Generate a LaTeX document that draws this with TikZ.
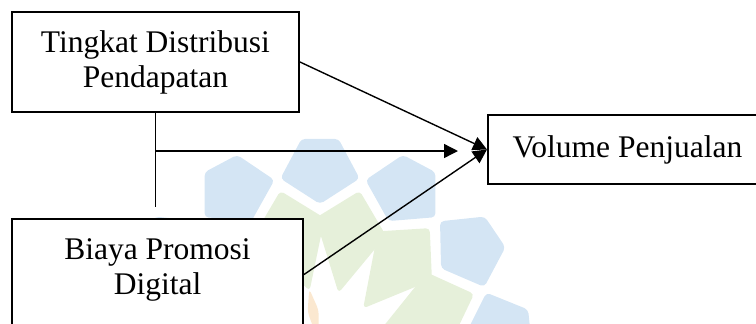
\documentclass[tikz,border=0pt]{standalone}
\usepackage{fontspec}
\setmainfont{Liberation Serif}
\usetikzlibrary{arrows.meta}

\definecolor{wmblue}{HTML}{D4E5F4}
\definecolor{wmgreen}{HTML}{E6F0DA}
\definecolor{wmorange}{HTML}{FBE8D0}

\tikzset{
  varbox/.style={draw, line width=1pt, fill=white, align=center, inner sep=0pt,
    font=\fontsize{15.75pt}{17.5pt}\selectfont},
  link/.style={line width=0.7pt, -{Triangle[length=7pt,width=7pt]}},
  petal/.style={rounded corners=2pt},
}

\begin{document}
\begin{tikzpicture}[x=0.5pt,y=-0.5pt]
  \useasboundingbox (0,0) rectangle (756,323);
  \clip (0,0) rectangle (756,323);

  % faint logo in the background
  \begin{scope}[shift={(320,350)}]
    \foreach \a in {146,118,90,62,34,6}
      \fill[wmblue, petal] (-\a:146) -- (-\a-13:176) -- (-\a-5:212) -- (-\a+5:212) -- (-\a+13:176) -- cycle;
    \foreach \a in {132,104,76,48,20}
      \fill[wmgreen, petal] (-\a+4:60) -- (-\a-16:132) -- (-\a:164) -- (-\a+16:132) -- cycle;
    \fill[wmorange, petal] (-100:8) -- (-108:40) -- (-100:62) -- (-92:40) -- cycle;
  \end{scope}

  % variables
  \node[varbox, minimum width=143.5pt, minimum height=50pt] (dist) at (155.5,62) {Tingkat Distribusi\\Pendapatan};
  \node[varbox, minimum width=145.5pt, minimum height=55.5pt, text depth=8.4pt] (promo) at (157.5,274.5) {Biaya Promosi\\Digital};
  \node[varbox, minimum width=139.5pt, minimum height=34.5pt] (sales) at (627.5,149.5) {Volume Penjualan};

  % connectors
  \coordinate (stub) at (155.5,207);
  \coordinate (joint) at (155.5,151);
  \coordinate (tip) at (458,151);
  \draw[line width=0.6pt] (dist.south) -- (stub);
  \draw[link] (joint) -- (tip);
  \draw[link] (dist.east) -- (sales.west);
  \draw[link] (promo.east) -- (sales.west);
\end{tikzpicture}
\end{document}
